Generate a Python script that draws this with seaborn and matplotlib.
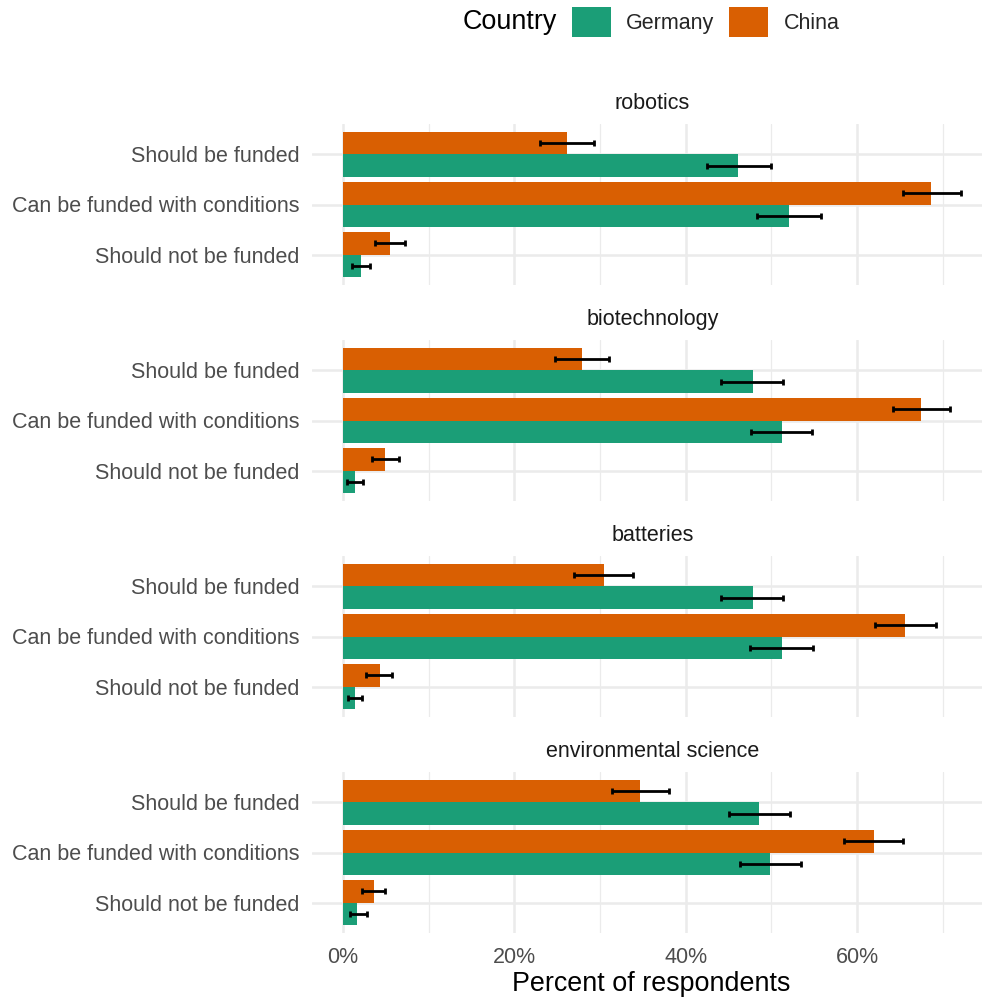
import matplotlib
matplotlib.use("Agg")
import matplotlib.pyplot as plt
import seaborn as sns
import pandas as pd
from matplotlib.patches import Patch
from matplotlib.ticker import FuncFormatter, FixedLocator

# ---------------- data ----------------
topics = ["robotics", "biotechnology", "batteries", "environmental science"]
responses = ["Should be funded", "Can be funded with conditions", "Should not be funded"]
countries = ["Germany", "China"]

germany_pct = {
    "robotics": [46.1, 52.0, 2.1],
    "biotechnology": [47.8, 51.2, 1.4],
    "batteries": [47.8, 51.2, 1.4],
    "environmental science": [48.5, 49.8, 1.7],
}
germany_lo = {
    "robotics": [42.5, 48.3, 1.05],
    "biotechnology": [44.1, 47.6, 0.5],
    "batteries": [44.1, 47.5, 0.6],
    "environmental science": [45.0, 46.3, 0.8],
}
germany_hi = {
    "robotics": [49.9, 55.8, 3.2],
    "biotechnology": [51.3, 54.7, 2.4],
    "batteries": [51.4, 54.8, 2.2],
    "environmental science": [52.2, 53.5, 2.8],
}
china_pct = {
    "robotics": [26.2, 68.6, 5.5],
    "biotechnology": [27.9, 67.5, 4.9],
    "batteries": [30.5, 65.6, 4.3],
    "environmental science": [34.7, 62.0, 3.6],
}
china_lo = {
    "robotics": [23.0, 65.3, 3.76],
    "biotechnology": [24.8, 64.2, 3.4],
    "batteries": [27.0, 62.1, 2.75],
    "environmental science": [31.4, 58.5, 2.25],
}
china_hi = {
    "robotics": [29.3, 72.1, 7.2],
    "biotechnology": [31.1, 70.8, 6.5],
    "batteries": [33.8, 69.2, 5.75],
    "environmental science": [38.1, 65.4, 4.9],
}
x_major = [0, 20, 40, 60]
x_minor = [10, 30, 50, 70]

# ---------------- table ----------------
rows = []
for t in topics:
    for c, (p, lo, hi) in {"Germany": (germany_pct, germany_lo, germany_hi),
                           "China": (china_pct, china_lo, china_hi)}.items():
        for k, r in enumerate(responses):
            rows.append(dict(topic=t, country=c, response=r,
                             pct=p[t][k], lo=lo[t][k], hi=hi[t][k]))
df = pd.DataFrame(rows)

palette = {"Germany": "#1B9E77", "China": "#D95F02"}
hue_order = ["China", "Germany"]  # China drawn on top within each group

sns.set_theme(style="white")
plt.rcParams['font.family'] = ['Liberation Sans', 'DejaVu Sans']

W, H = 982, 999
fig = plt.figure(figsize=(W / 100, H / 100), dpi=100)

panel_left = 312
panel_right = 992.6
panel_h = 161
panel_bottoms = [285, 501, 717, 933]

for i, t in enumerate(topics):
    b = panel_bottoms[i]
    ax = fig.add_axes([panel_left / W, 1 - b / H, (panel_right - panel_left) / W, panel_h / H])
    sub = df[df.topic == t]
    sns.barplot(data=sub, y="response", x="pct", hue="country", hue_order=hue_order,
                order=responses, palette=palette, width=0.9, orient="h",
                errorbar=None, saturation=1, linewidth=0, legend=False, ax=ax, zorder=2)
    # error bars
    for ci, c in enumerate(hue_order):
        cont = ax.containers[ci]
        for j, bar in enumerate(cont):
            r = responses[j]
            row = sub[(sub.country == c) & (sub.response == r)].iloc[0]
            yc = bar.get_y() + bar.get_height() / 2
            ax.errorbar(x=row.pct, y=yc, xerr=[[row.pct - row.lo], [row.hi - row.pct]],
                        fmt="none", ecolor="black", elinewidth=2.0, capsize=2.4,
                        capthick=2.0, zorder=3)
    ax.set_xlim(-3.6, 75.8)
    ax.set_ylim(2.6, -0.6)
    ax.xaxis.set_major_locator(FixedLocator(x_major))
    ax.xaxis.set_minor_locator(FixedLocator(x_minor))
    ax.xaxis.set_major_formatter(FuncFormatter(lambda v, p: f"{v:.0f}%"))
    ax.grid(which="major", axis="both", color="#EBEBEB", linewidth=1.8, zorder=0)
    ax.grid(which="minor", axis="x", color="#EBEBEB", linewidth=0.9, zorder=0)
    ax.set_axisbelow(True)
    for s in ax.spines.values():
        s.set_visible(False)
    ax.set_xlabel("")
    ax.set_ylabel("")
    ax.tick_params(axis="both", which="both", length=0)
    ax.tick_params(axis="y", labelsize=15.5, labelcolor="#4D4D4D", pad=9)
    ax.tick_params(axis="x", labelsize=15.5, labelcolor="#4D4D4D", pad=10,
                   labelbottom=(i == len(topics) - 1))
    ax.set_title(t, fontsize=15.5, color="#1A1A1A", pad=11)

# legend
handles = [Patch(facecolor=palette[c], edgecolor="none") for c in countries]
fig.legend(handles, countries, loc="center left", bbox_to_anchor=(572 / W, 1 - 22 / H),
           ncol=2, frameon=False, fontsize=15.5, handlelength=1.81, handleheight=1.81,
           handletextpad=0.7, columnspacing=0.7, borderpad=0, borderaxespad=0)
fig.text(557 / W, 1 - 22 / H, "Country", fontsize=19.4, ha="right", va="center", color="black")

fig.text(651 / W, 1 - 984 / H, "Percent of respondents", fontsize=19.4,
         ha="center", va="center", color="black")

fig.savefig("out.png", dpi=100)
